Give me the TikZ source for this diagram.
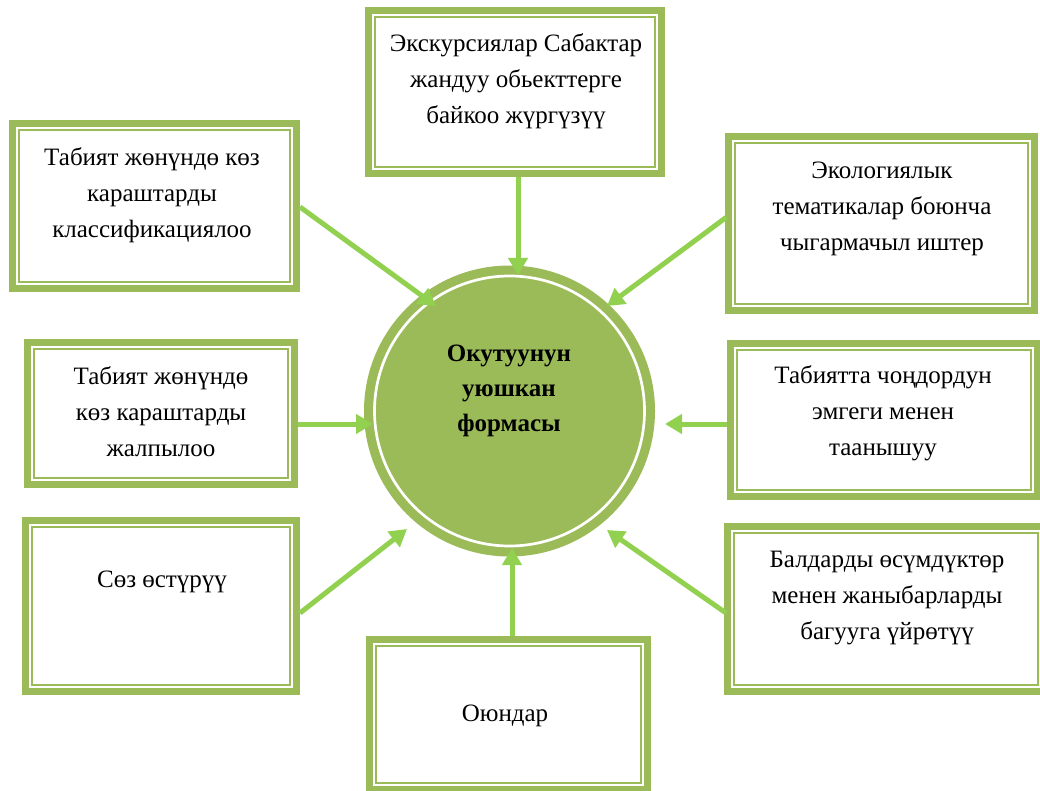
\documentclass[tikz,border=0pt]{standalone}
\usepackage{fontspec}
\setmainfont{Liberation Serif}
\usetikzlibrary{arrows.meta}
\definecolor{boxg}{HTML}{9BBB59}
\definecolor{arrg}{HTML}{92D050}
\tikzset{
  fbox/.style={rectangle, draw=boxg, line width=7pt, fill=white, inner sep=0pt,
    path picture={\draw[boxg, line width=2pt]
      ([xshift=6.5pt,yshift=-6.5pt]path picture bounding box.north west) rectangle
      ([xshift=-6.5pt,yshift=6.5pt]path picture bounding box.south east);}},
  txt/.style={align=center, inner sep=0pt, font=\fontsize{25}{36}\selectfont, text=black},
  ctxt/.style={align=center, inner sep=0pt, font=\fontsize{25}{35}\selectfont\bfseries, text=black},
  arr/.style={draw=arrg, line width=5pt, -{Triangle[length=17pt,width=19pt]}},
}
\begin{document}
\begin{tikzpicture}[x=1pt,y=-1pt]
\useasboundingbox (0,0) rectangle (1040,791);
% centre circle
\node[circle, draw=boxg, line width=9pt, fill=boxg, minimum size=282pt, inner sep=0pt] (C) at (509.5,411) {};
\draw[white, line width=2.7pt] (C.center) circle[radius=135];
\node[ctxt] (Ct) at (509,391) {Окутуунун\\уюшкан\\формасы};
% boxes
\node[fbox, minimum width=293pt, minimum height=163pt] (T)  at (515,92) {};
\node[fbox, minimum width=284pt, minimum height=165pt] (TL) at (154.5,206) {};
\node[fbox, minimum width=306pt, minimum height=174pt] (TR) at (881.5,223.5) {};
\node[fbox, minimum width=267pt, minimum height=142pt] (LM) at (161,413.5) {};
\node[fbox, minimum width=307pt, minimum height=153pt] (RM) at (884,420) {};
\node[fbox, minimum width=271pt, minimum height=171pt] (BL) at (161,606) {};
\node[fbox, minimum width=317pt, minimum height=165pt] (BR) at (886,609) {};
\node[fbox, minimum width=278pt, minimum height=150pt] (B)  at (508.5,714.5) {};
% texts
\node[txt] (tT)  at (516,81)  {Экскурсиялар Сабактар\\жандуу обьекттерге\\байкоо жүргүзүү};
\node[txt] (tTL) at (152,195) {Табият жөнүндө көз\\караштарды\\классификациялоо};
\node[txt] (tTR) at (882,209) {Экологиялык\\тематикалар боюнча\\чыгармачыл иштер};
\node[txt] (tLM) at (161,412) {Табият жөнүндө\\көз караштарды\\жалпылоо};
\node[txt] (tRM) at (883,413) {Табиятта чоңдордун\\эмгеги менен\\таанышуу};
\node[txt] (tBL) at (162,582) {Сөз өстүрүү};
\node[txt] (tBR) at (887,598) {Балдарды өсүмдүктөр\\менен жаныбарларды\\багууга үйрөтүү};
\node[txt] (tB)  at (505,716) {Оюндар};
% arrow tips on the circle
\coordinate (hT)  at (518,275);
\coordinate (hTL) at (436,306);
\coordinate (hTR) at (607,306);
\coordinate (hLM) at (373,424);
\coordinate (hRM) at (665,424);
\coordinate (hBL) at (407,529);
\coordinate (hBR) at (607,530);
\coordinate (hB)  at (512,548);
% arrows
\draw[arr] ([xshift=3pt]T.south) -- (hT);
\draw[arr] ([yshift=-1pt]TL.east) -- (hTL);
\draw[arr] ([xshift=1pt,yshift=6pt]TR.west) -- (hTR);
\draw[arr] ([yshift=-10.5pt]LM.east) -- (hLM);
\draw[arr] ([yshift=-4pt]RM.west) -- (hRM);
\draw[arr] ([yshift=-7pt]BL.east) -- (hBL);
\draw[arr] ([xshift=2pt,yshift=-4pt]BR.west) -- (hBR);
\draw[arr] ([xshift=3.5pt]B.north) -- (hB);
\end{tikzpicture}
\end{document}
